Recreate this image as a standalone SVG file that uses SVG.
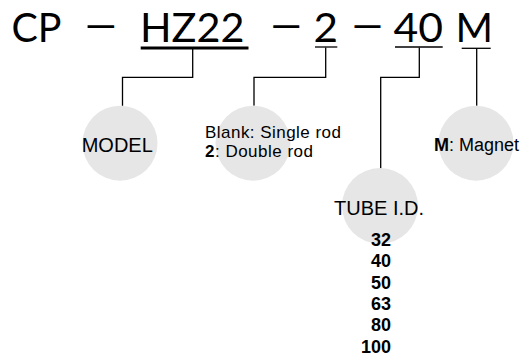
<svg xmlns="http://www.w3.org/2000/svg" width="527" height="358" viewBox="0 0 527 358">
<style>
.hd{font-family:Lato,"DejaVu Sans",sans-serif;font-size:40px;fill:#000}
.lb{font-family:"Liberation Sans",Arial,sans-serif;fill:#000}
.c{fill:#e6e6e6}
.ln{fill:none;stroke:#000;stroke-width:1.3}
</style>
<rect width="527" height="358" fill="#fff"/>
<g id="code">
<text class="hd" x="11.5" y="41.7" textLength="50" lengthAdjust="spacingAndGlyphs">CP</text>
<text class="hd" x="85" y="38.5" textLength="31.7" lengthAdjust="spacingAndGlyphs">—</text>
<text class="hd" x="140" y="41.7" textLength="104.5" lengthAdjust="spacingAndGlyphs">HZ22</text>
<text class="hd" x="270.7" y="38.5" textLength="31" lengthAdjust="spacingAndGlyphs">—</text>
<text class="hd" x="313.5" y="41.7" textLength="24.5" lengthAdjust="spacingAndGlyphs">2</text>
<text class="hd" x="352" y="38.5" textLength="31" lengthAdjust="spacingAndGlyphs">—</text>
<text class="hd" x="393.5" y="41.7" textLength="49.5" lengthAdjust="spacingAndGlyphs">40</text>
<text class="hd" x="455.5" y="41.7" textLength="37.5" lengthAdjust="spacingAndGlyphs">M</text>
<rect x="140.7" y="46.5" width="107.8" height="3" fill="#000"/>
<line x1="315" y1="47" x2="337.3" y2="47" class="ln"/>
<line x1="395" y1="47" x2="442.7" y2="47" class="ln"/>
<line x1="461.7" y1="48.3" x2="490.7" y2="48.3" class="ln"/>
</g>
<g id="connectors">
<path class="ln" d="M192.7 49 V77.3 H122.5 V105.7"/>
<path class="ln" d="M325.7 47.5 V77.3 H254 V105.7"/>
<path class="ln" d="M419.3 47.5 V77.3 H380.7 V169"/>
<path class="ln" d="M476.7 48.8 V105.7"/>
</g>
<g id="model">
<circle class="c" cx="120" cy="143.2" r="37.5"/>
<text class="lb" x="81.7" y="151.7" font-size="20">MODEL</text>
</g>
<g id="rod">
<circle class="c" cx="253" cy="143.2" r="37.5"/>
<text class="lb" x="205" y="137.5" font-size="17" textLength="136" lengthAdjust="spacing">Blank: Single rod</text>
<text class="lb" x="205" y="156.5" font-size="17" textLength="108" lengthAdjust="spacing"><tspan font-weight="bold">2</tspan>: Double rod</text>
</g>
<g id="magnet">
<circle class="c" cx="476" cy="143.2" r="37.5"/>
<text class="lb" x="434" y="150.5" font-size="18"><tspan font-weight="bold">M</tspan>: Magnet</text>
</g>
<g id="tube">
<circle class="c" cx="380" cy="206" r="38"/>
<text class="lb" x="379" y="215" font-size="20" text-anchor="middle">TUBE I.D.</text>
<g class="lb" font-size="18" font-weight="bold" text-anchor="end">
<text x="391" y="246">32</text>
<text x="391" y="267.3">40</text>
<text x="391" y="288.6">50</text>
<text x="391" y="309.9">63</text>
<text x="391" y="331.2">80</text>
<text x="391" y="352.5">100</text>
</g>
</g>
</svg>
